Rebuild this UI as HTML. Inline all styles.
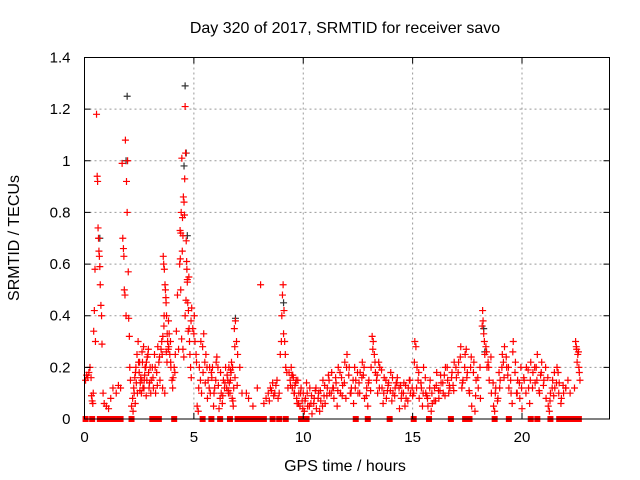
<!DOCTYPE html>
<html><head><meta charset="utf-8"><style>
html,body{margin:0;padding:0;background:#fff;}
svg{display:block;font-family:"Liberation Sans",sans-serif;}
</style></head><body>
<svg id="chart" width="640" height="480" viewBox="0 0 640 480" xmlns="http://www.w3.org/2000/svg">
<rect width="640" height="480" fill="#fff"/>
<text x="345" y="33" font-size="16" text-anchor="middle" fill="#000">Day 320 of 2017, SRMTID for receiver savo</text>
<text x="345" y="471" font-size="16" text-anchor="middle" fill="#000">GPS time / hours</text>
<text transform="translate(19,238) rotate(-90)" font-size="16" text-anchor="middle" fill="#000">SRMTID / TECUs</text>
<g id="grid"></g>
<g id="marks"></g>
<rect x="84.5" y="57.5" width="525" height="361.5" fill="none" stroke="#000" stroke-width="1"/>
<g id="ticks"></g>
</svg>
<script>
const xTicks = [0, 5, 10, 15, 20];
const yTicks = [0, 0.2, 0.4, 0.6, 0.8, 1, 1.2, 1.4];
const yTickLabels = ["0", "0.2", "0.4", "0.6", "0.8", "1", "1.2", "1.4"];
const hours = [
0.05,0.1,0.15,0.2,0.25,0.3,0.32,0.35,0.38,0.4,0.42,0.45,0.48,0.5,
0.55,0.58,0.6,0.62,0.64,0.66,0.68,0.7,0.72,0.75,0.78,0.8,
0.85,0.9,1.0,1.1,1.2,1.3,1.45,1.55,1.65,
1.72,1.75,1.78,1.8,1.82,1.85,1.87,1.9,1.92,1.95,1.97,2.0,2.02,2.05,2.07,2.1,
2.15,2.2,2.25,2.3,2.35,2.4,2.45,2.5,2.55,2.6,2.65,2.7,2.75,2.8,2.85,2.9,2.95,3.0,2.22,2.32,2.42,2.52,2.62,2.72,2.82,2.92,
3.05,3.1,3.15,3.2,3.25,3.3,3.35,3.4,3.45,
3.5,3.55,3.58,3.6,3.62,3.65,3.68,3.7,3.72,3.75,3.78,3.8,3.85,3.9,3.95,4.0,3.57,3.67,3.77,3.87,
4.05,4.1,4.15,4.2,4.25,4.3,
4.35,4.38,4.4,4.42,4.45,4.48,4.5,4.52,4.55,4.58,4.6,4.62,4.65,4.68,4.7,4.72,4.75,4.78,4.8,4.82,4.85,4.88,4.4,4.5,4.6,4.7,
4.9,4.95,5.0,5.05,5.1,5.15,5.2,5.25,5.3,5.35,5.4,5.45,5.5,
5.55,5.6,5.65,5.7,5.75,5.8,5.85,5.9,5.95,6.0,6.05,6.1,6.15,6.2,6.25,6.3,6.35,6.4,6.45,
6.5,6.55,6.6,6.65,6.7,6.75,6.8,6.85,6.9,6.95,7.0,6.62,6.72,6.82,
7.1,7.2,7.4,7.5,7.7,7.9,8.05,8.2,8.3,8.4,8.5,8.6,8.7,8.8,8.9,
8.95,9.0,9.02,9.05,9.08,9.1,9.12,9.15,9.18,9.2,9.25,9.3,
9.35,9.4,9.45,9.5,9.55,9.6,9.65,9.7,9.75,9.8,9.85,9.9,9.95,10.0,9.52,9.62,9.72,
10.05,10.1,10.2,10.3,10.4,10.5,10.6,10.7,10.8,10.9,11.0,11.1,11.2,11.3,11.4,11.5,11.6,11.7,11.8,11.9,10.15,10.35,10.55,10.75,10.95,11.15,11.35,11.55,11.75,11.95,
12.0,12.1,12.2,12.3,12.4,12.5,12.6,12.7,12.8,12.9,13.0,12.15,12.35,12.55,12.75,12.95,
13.1,13.15,13.2,13.25,13.3,13.35,13.4,13.5,13.6,13.7,13.8,13.9,14.0,14.1,14.2,14.3,14.4,14.5,14.6,14.7,14.8,14.9,15.0,13.45,13.65,13.85,14.05,14.25,14.45,14.65,14.85,
15.05,15.1,15.15,15.2,15.25,15.3,15.4,15.5,15.6,15.7,15.8,15.9,16.0,16.1,16.2,16.3,16.4,16.5,16.6,16.7,16.8,16.9,17.0,15.45,15.65,15.85,16.05,16.25,16.45,16.65,16.85,
17.1,17.2,17.3,17.4,17.5,17.6,17.7,17.8,17.9,18.0,18.1,17.25,17.45,17.65,17.85,
18.2,18.22,18.25,18.28,18.3,18.35,18.4,18.45,18.5,
18.6,18.7,18.8,18.9,19.0,19.1,19.2,19.3,19.4,19.5,19.6,19.7,19.8,19.9,20.0,18.75,18.95,19.15,19.35,19.55,19.75,19.95,
20.1,20.2,20.3,20.4,20.5,20.6,20.7,20.8,20.9,21.0,21.1,21.2,21.3,21.4,21.5,21.6,21.7,21.8,21.9,22.0,22.1,22.2,20.35,20.65,20.85,21.25,21.45,21.65,
22.4,22.45,22.5,22.55,22.6,22.65
];
const srmtid = [
0.15,0.17,0.16,0.18,0.2,0.16,0.09,0.07,0.06,0.1,0.34,0.42,0.58,0.3,
1.18,0.94,0.92,0.74,0.7,0.65,0.63,0.59,0.52,0.44,0.4,0.29,
0.1,0.06,0.05,0.04,0.08,0.12,0.1,0.13,0.12,
0.99,0.7,0.66,0.63,0.5,0.48,1.08,0.4,0.92,0.8,1.0,0.57,0.39,0.32,0.2,0.15,
0.05,0.08,0.12,0.16,0.2,0.25,0.3,0.18,0.14,0.1,0.22,0.28,0.17,0.2,0.15,0.25,0.12,0.2,0.03,0.06,0.1,0.22,0.15,0.12,0.09,0.27,
0.15,0.2,0.12,0.25,0.1,0.18,0.28,0.22,0.15,
0.27,0.25,0.32,0.63,0.6,0.58,0.52,0.5,0.47,0.4,0.33,0.3,0.28,0.25,0.2,0.15,0.12,0.1,0.22,0.33,
0.16,0.2,0.25,0.34,0.48,0.27,
0.6,0.62,0.72,0.8,1.01,0.78,0.71,0.86,0.84,0.93,1.21,1.03,0.69,0.58,0.54,0.45,0.42,0.35,0.3,0.25,0.2,0.16,0.5,0.27,0.4,0.53,
0.43,0.35,0.33,0.3,0.25,0.05,0.03,0.2,0.15,0.1,0.28,0.33,0.22,
0.25,0.2,0.15,0.12,0.1,0.18,0.2,0.05,0.12,0.15,0.24,0.2,0.04,0.08,0.1,0.06,0.15,0.12,0.2,
0.12,0.15,0.2,0.1,0.18,0.08,0.05,0.35,0.38,0.3,0.25,0.14,0.22,0.12,
0.2,0.1,0.1,0.08,0.05,0.12,0.52,0.06,0.08,0.1,0.12,0.14,0.1,0.15,0.1,
0.25,0.3,0.4,0.48,0.52,0.33,0.42,0.3,0.25,0.2,0.18,0.12,
0.18,0.15,0.2,0.12,0.16,0.1,0.14,0.08,0.15,0.1,0.05,0.12,0.07,0.1,0.17,0.13,0.06,
0.03,0.08,0.05,0.12,0.02,0.08,0.04,0.1,0.07,0.15,0.06,0.12,0.1,0.18,0.08,0.14,0.2,0.1,0.13,0.22,0.14,0.06,0.11,0.03,0.09,0.17,0.12,0.05,0.16,0.08,
0.25,0.2,0.12,0.06,0.15,0.1,0.18,0.22,0.08,0.12,0.15,0.1,0.2,0.14,0.17,0.05,
0.2,0.32,0.3,0.25,0.18,0.15,0.1,0.2,0.12,0.16,0.08,0.14,0.18,0.1,0.12,0.16,0.04,0.1,0.14,0.08,0.12,0.1,0.09,0.22,0.06,0.11,0.07,0.14,0.13,0.05,0.15,
0.1,0.3,0.28,0.2,0.15,0.08,0.12,0.2,0.1,0.05,0.15,0.06,0.12,0.18,0.08,0.14,0.1,0.2,0.15,0.12,0.18,0.22,0.16,0.05,0.09,0.03,0.07,0.11,0.17,0.1,0.13,
0.22,0.28,0.15,0.25,0.18,0.1,0.05,0.22,0.15,0.12,0.08,0.12,0.27,0.2,0.03,
0.42,0.38,0.33,0.3,0.25,0.28,0.2,0.22,0.15,
0.1,0.05,0.12,0.08,0.15,0.25,0.28,0.2,0.12,0.1,0.3,0.22,0.15,0.08,0.04,0.03,0.18,0.22,0.17,0.06,0.1,0.2,
0.15,0.2,0.12,0.22,0.18,0.14,0.25,0.1,0.22,0.15,0.08,0.05,0.1,0.15,0.12,0.2,0.14,0.08,0.1,0.12,0.15,0.1,0.06,0.2,0.17,0.03,0.09,0.18,
0.12,0.3,0.27,0.25,0.2,0.15
];
const extraHours = [
2.27,2.37,2.47,2.57,2.67,2.77,2.87,2.97,2.33,2.63,
2.53,2.73,2.83,2.93,3.03,3.13,3.23,3.33,3.43,3.53,
3.63,3.73,3.83,3.93,3.64,3.74,3.84,3.94,4.03,4.13,
4.37,4.47,4.57,4.67,4.77,4.87,4.44,4.54,4.64,4.74,
5.02,5.12,5.22,5.32,5.42,5.52,5.62,5.72,5.82,5.92,
6.02,6.12,6.22,6.32,6.42,6.52,6.57,6.67,6.77,6.87,
6.58,6.68,6.78,6.88,6.98,8.45,8.55,8.65,8.75,8.85,
9.42,9.48,9.58,9.68,9.78,9.88,9.98,10.08,10.18,10.28,
10.38,10.48,10.58,10.68,10.78,10.88,10.98,11.08,11.18,11.28,
11.38,11.48,11.58,11.68,11.78,11.88,11.98,12.08,12.18,12.28,
12.38,12.48,12.58,12.68,12.78,12.88,12.98,13.08,13.18,13.28,
13.38,13.48,13.58,13.68,13.78,13.88,13.98,14.08,14.18,14.28,
14.38,14.48,14.58,14.68,14.78,14.88,14.98,15.08,15.18,15.28,
15.38,15.48,15.58,15.68,15.78,15.88,15.98,16.08,16.18,16.28,
16.38,16.48,16.58,16.68,16.78,16.88,16.98,17.08,17.18,17.28,
17.38,17.48,17.58,17.68,17.78,17.88,17.98,18.08,18.18,18.38,
18.48,18.58,18.68,18.78,18.88,18.98,19.08,19.18,19.28,19.38,
19.48,19.58,19.68,19.78,19.88,19.98,20.08,20.18,20.28,20.38,
20.48,20.58,20.68,20.78,20.88,20.98,21.08,21.18,21.28,21.38,
21.48,21.58,21.68,21.78,21.88,22.0,22.48,22.52,22.58,22.62
];
const extraValues = [
0.1,0.14,0.22,0.16,0.12,0.2,0.24,0.14,0.18,0.26,
0.11,0.15,0.22,0.18,0.1,0.16,0.2,0.13,0.24,0.3,
0.36,0.45,0.27,0.3,0.4,0.26,0.38,0.22,0.12,0.18,
0.73,0.65,0.79,0.61,0.55,0.38,0.31,0.24,0.46,0.34,
0.4,0.22,0.12,0.3,0.18,0.14,0.08,0.2,0.16,0.1,
0.22,0.13,0.18,0.09,0.14,0.17,0.11,0.15,0.2,0.28,
0.1,0.19,0.07,0.16,0.13,0.07,0.11,0.09,0.13,0.08,
0.13,0.17,0.1,0.15,0.06,0.1,0.04,0.07,0.1,0.05,
0.09,0.06,0.12,0.08,0.11,0.05,0.13,0.09,0.15,0.1,
0.12,0.16,0.11,0.18,0.09,0.14,0.2,0.17,0.1,0.15,
0.12,0.18,0.1,0.16,0.2,0.09,0.14,0.11,0.27,0.22,
0.17,0.12,0.19,0.1,0.15,0.13,0.11,0.16,0.09,0.14,
0.12,0.08,0.1,0.13,0.07,0.15,0.12,0.22,0.12,0.18,
0.14,0.1,0.16,0.08,0.12,0.1,0.07,0.13,0.11,0.17,
0.14,0.09,0.2,0.13,0.16,0.11,0.2,0.18,0.24,0.14,
0.2,0.16,0.11,0.24,0.18,0.09,0.16,0.2,0.36,0.26,
0.2,0.24,0.14,0.1,0.07,0.12,0.2,0.16,0.24,0.2,
0.15,0.26,0.18,0.1,0.14,0.12,0.16,0.1,0.19,0.15,
0.12,0.2,0.15,0.11,0.18,0.13,0.2,0.16,0.07,0.12,
0.18,0.14,0.1,0.06,0.13,0.12,0.28,0.22,0.26,0.18
];
const blackHours = [1.95, 4.6, 1.9, 4.65, 0.7, 4.7, 18.25, 6.9, 9.1, 4.55, 18.3];
const blackValues = [1.25, 1.29, 1.0, 1.03, 0.7, 0.71, 0.35, 0.39, 0.45, 0.98, 0.26];
const zeroHours = [0.05,0.35,0.7,0.85,1.0,1.1,1.2,1.35,1.45,1.55,1.65,2.15,3.1,3.2,3.4,4.1,5.4,5.8,6.2,6.65,7.0,7.2,7.4,7.6,7.8,8.0,8.2,8.6,8.9,9.2,9.9,10.15,12.4,12.95,13.95,15.05,15.75,16.75,17.4,17.6,18.75,19.4,20.4,20.7,21.3,21.7,21.95,22.05,22.2,22.35,22.6];

const X0 = 84.5, X1 = 609.5, Y0 = 419, Y1 = 57.5;
const xMax = 24, yMax = 1.4;
function xs(h){ return X0 + h / xMax * (X1 - X0); }
function ys(v){ return Y0 - v / yMax * (Y0 - Y1); }
const NS = "http://www.w3.org/2000/svg";
const grid = document.getElementById('grid');
const ticks = document.getElementById('ticks');
const marks = document.getElementById('marks');

xTicks.forEach(function(t){
  const x = xs(t);
  if (t > 0) {
    const g = document.createElementNS(NS, 'line');
    
    
    g.setAttribute('x1', x); g.setAttribute('x2', x); g.setAttribute('y1', Y1); g.setAttribute('y2', Y0);
    g.setAttribute('stroke', '#999'); g.setAttribute('stroke-dasharray', '2,3');
    grid.appendChild(g);
  }
  const tk = document.createElementNS(NS, 'path');
  
  
  tk.setAttribute('d', 'M' + x + ' ' + Y0 + 'v-6M' + x + ' ' + Y1 + 'v6');
  tk.setAttribute('stroke', '#000');
  ticks.appendChild(tk);
  const lb = document.createElementNS(NS, 'text');
  
  
  lb.setAttribute('x', x); lb.setAttribute('y', Y0 + 23);
  lb.setAttribute('font-size', '15'); lb.setAttribute('text-anchor', 'middle');
  lb.textContent = String(t);
  ticks.appendChild(lb);
});
yTicks.forEach(function(t, i){
  const y = ys(t);
  if (t > 0 && t < yMax) {
    const g = document.createElementNS(NS, 'line');
    
    
    g.setAttribute('x1', X0); g.setAttribute('x2', X1); g.setAttribute('y1', y); g.setAttribute('y2', y);
    g.setAttribute('stroke', '#999'); g.setAttribute('stroke-dasharray', '2,3');
    grid.appendChild(g);
  }
  const tk = document.createElementNS(NS, 'path');
  
  
  tk.setAttribute('d', 'M' + X0 + ' ' + y + 'h6M' + X1 + ' ' + y + 'h-6');
  tk.setAttribute('stroke', '#000');
  ticks.appendChild(tk);
  const lb = document.createElementNS(NS, 'text');
  
  
  lb.setAttribute('x', X0 - 14); lb.setAttribute('y', y + 5);
  lb.setAttribute('font-size', '15'); lb.setAttribute('text-anchor', 'end');
  lb.textContent = yTickLabels[i];
  ticks.appendChild(lb);
});

function crosses(hs, vs, color, name){
  let d = '';
  for (let i = 0; i < hs.length; i++) {
    const x = xs(hs[i]), y = ys(vs[i]);
    d += 'M' + (x - 3.5) + ' ' + y + 'h7M' + x + ' ' + (y - 3.5) + 'v7';
  }
  const p = document.createElementNS(NS, 'path');
  
  
  p.setAttribute('d', d);
  p.setAttribute('stroke', color);
  p.setAttribute('stroke-width', '1.2');
  p.setAttribute('fill', 'none');
  marks.appendChild(p);
}
crosses(blackHours, blackValues, '#333', 'black-series-points');
crosses(hours, srmtid, '#f00', 'srmtid-points');
crosses(extraHours, extraValues, '#f00', 'srmtid-points-extra');
zeroHours.forEach(function(h){
  const r = document.createElementNS(NS, 'rect');
  
  
  r.setAttribute('x', xs(h) - 3); r.setAttribute('y', Y0 - 3);
  r.setAttribute('width', 6); r.setAttribute('height', 6);
  r.setAttribute('fill', '#f00');
  marks.appendChild(r);
});
</script>
</body></html>
